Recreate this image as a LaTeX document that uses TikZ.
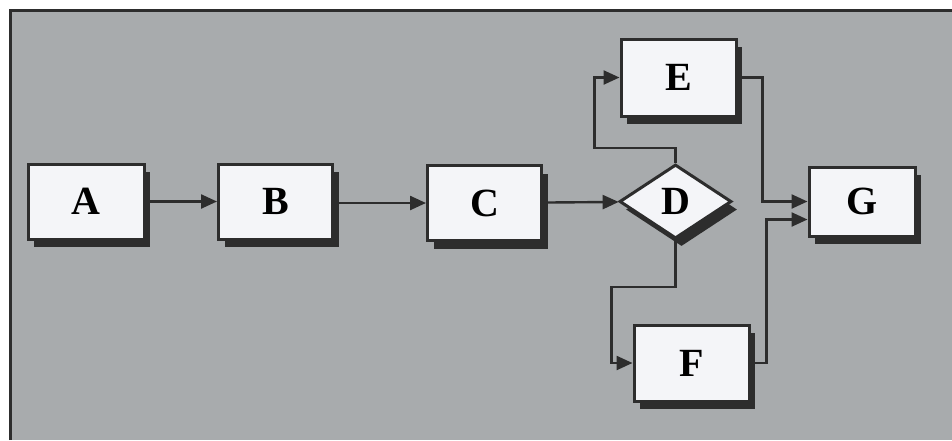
\documentclass[tikz,border=0pt]{standalone}
\usepackage{fontspec}
\setmainfont{Liberation Serif}
\usepackage{xcolor}
\usetikzlibrary{calc,shapes.geometric,shadows,arrows.meta}
\definecolor{panel}{RGB}{168,171,173}
\definecolor{ink}{RGB}{45,45,45}
\definecolor{boxfill}{RGB}{244,245,248}
\tikzset{
  block/.style={rectangle, draw=ink, line width=3pt, fill=boxfill,
    minimum width=#1, minimum height=75pt, inner sep=0pt,
    font=\bfseries\fontsize{40}{42}\selectfont,
    drop shadow={shadow xshift=6pt, shadow yshift=-8pt, fill=ink, opacity=1}},
  block/.default=114pt,
  decide/.style={diamond, draw=ink, line width=3pt, fill=boxfill,
    minimum width=112pt, minimum height=74pt, inner sep=0pt,
    font=\bfseries\fontsize{40}{42}\selectfont,
    drop shadow={shadow xshift=6pt, shadow yshift=-8pt, fill=ink, opacity=1}},
  flow/.style={draw=ink, line width=2.4pt, -{Triangle[length=16pt,width=14pt]}}
}
\begin{document}
\begin{tikzpicture}[x=1pt,y=-1pt]
\useasboundingbox (0,0) rectangle (952,440);
\fill[white] (0,0) rectangle (952,440);
\fill[panel] (10,9) rectangle (952,440);
\draw[ink, line width=3pt] (10.5,440) -- (10.5,10) -- (952,10);
% boxes
\node[block=116pt] (A) at (86,201.5) {A};
\node[block] (B) at (275.5,201.5) {B};
\node[block] (C) at (484.5,203) {C};
\node[decide] (D) at (675.5,201.5) {D};
\node[block=115pt, minimum height=77pt] (E) at (678.5,77.5) {E};
\node[block=115pt, minimum height=76pt] (F) at (691.5,363) {F};
\node[block=106pt, minimum height=69pt] (G) at (862,201.5) {G};
% connectors
\draw[flow] (A) -- (B);
\draw[flow] (B.east |- C) -- (C);
\draw[flow] (C) -- (D);
\draw[flow] (D.north) -- ++(0,-15) -| ([xshift=-25pt]E.west) -- (E.west);
\draw[flow] (D.south) -- ++(0,47) -| ([xshift=-21pt]F.west) -- (F.west);
\draw[flow] (E.east) -- ++(25,0) |- (G.west);
\draw[flow] (F.east) -- ++(16,0) |- ([yshift=-18pt]G.west);
\end{tikzpicture}
\end{document}
